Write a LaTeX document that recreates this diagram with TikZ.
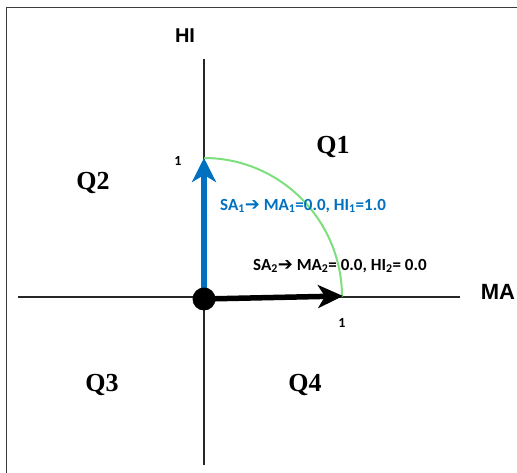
\documentclass[tikz,border=0pt]{standalone}
\usepackage{fontspec}
\setmainfont{Liberation Serif}
\setsansfont{Carlito}
\newfontfamily\arialf{Liberation Sans}
\newfontfamily\symf{DejaVu Sans}
\usetikzlibrary{arrows.meta}
\definecolor{sablue}{RGB}{0,112,192}
\definecolor{arcgreen}{RGB}{125,222,125}
\definecolor{framegray}{RGB}{60,60,60}
\tikzset{
  frameline/.style={draw=framegray, line width=1.6pt},
  axisline/.style={draw=black!85, line width=1.3pt},
  vecblue/.style={draw=sablue, line width=6pt, -{Stealth[length=24pt,width=24pt,inset=7pt]}},
  vecblack/.style={draw=black, line width=5.5pt, -{Stealth[length=25pt,width=23pt,inset=7pt]}},
  quad/.style={font=\fontsize{26}{28}\selectfont\bfseries},
  axlab/.style={font=\arialf\bfseries},
  onelab/.style={font=\sffamily\bfseries\fontsize{14}{15}\selectfont},
  vtext/.style={font=\sffamily\bfseries\fontsize{17}{19}\selectfont, inner sep=0pt, anchor=west}
}
\newcommand{\harr}{{\symf\bfseries\fontsize{18}{19}\selectfont ➔}}
\begin{document}
\begin{tikzpicture}[x=1pt,y=-1pt]
\useasboundingbox (0,0) rectangle (517,473);
% frame
\coordinate (fb) at (6.5,473);
\coordinate (fc) at (6.5,7.5);
\coordinate (fr) at (517,7.5);
\draw[frameline] (fb) -- (fc) -- (fr);
% axes
\coordinate (vtop) at (204,59);
\coordinate (vbot) at (204,465);
\coordinate (hl) at (18,297);
\coordinate (hr) at (460,297);
\draw[axisline] (vtop) -- (vbot);
\draw[axisline] (hl) -- (hr);
% arc
\coordinate (a1) at (204,158);
\coordinate (a2) at (342,297);
\draw[arcgreen, line width=2pt] (a1) .. controls (280.2,158) and (342,220.3) .. (a2);
% vectors
\coordinate (oc) at (204,299);
\coordinate (t1) at (204,158);
\coordinate (t2) at (343,296);
\draw[vecblue] (oc) -- (t1);
\draw[vecblack] (oc) -- (t2);
\node[circle, fill=black, inner sep=0pt, minimum size=23pt] (o) at (oc) {};
% labels
\node[axlab, font=\arialf\bfseries\fontsize{20}{22}\selectfont] (hi) at (185,36) {HI};
\node[axlab, font=\arialf\bfseries\fontsize{22}{24}\selectfont] (ma) at (498,292) {MA};
\node[onelab] (one1) at (178,161) {1};
\node[onelab] (one2) at (342,323) {1};
\node[quad] (q1) at (333,147) {Q1};
\node[quad] (q2) at (93,183) {Q2};
\node[quad] (q3) at (102,385) {Q3};
\node[quad] (q4) at (305,385) {Q4};
\node[vtext, text=sablue] (s1) at (220,206) {SA\textsubscript{1}\harr\ MA\textsubscript{1}=0.0, HI\textsubscript{1}=1.0};
\node[vtext, text=black] (s2) at (253,266) {SA\textsubscript{2}\harr\ MA\textsubscript{2}= 0.0, HI\textsubscript{2}= 0.0};
\end{tikzpicture}
\end{document}
